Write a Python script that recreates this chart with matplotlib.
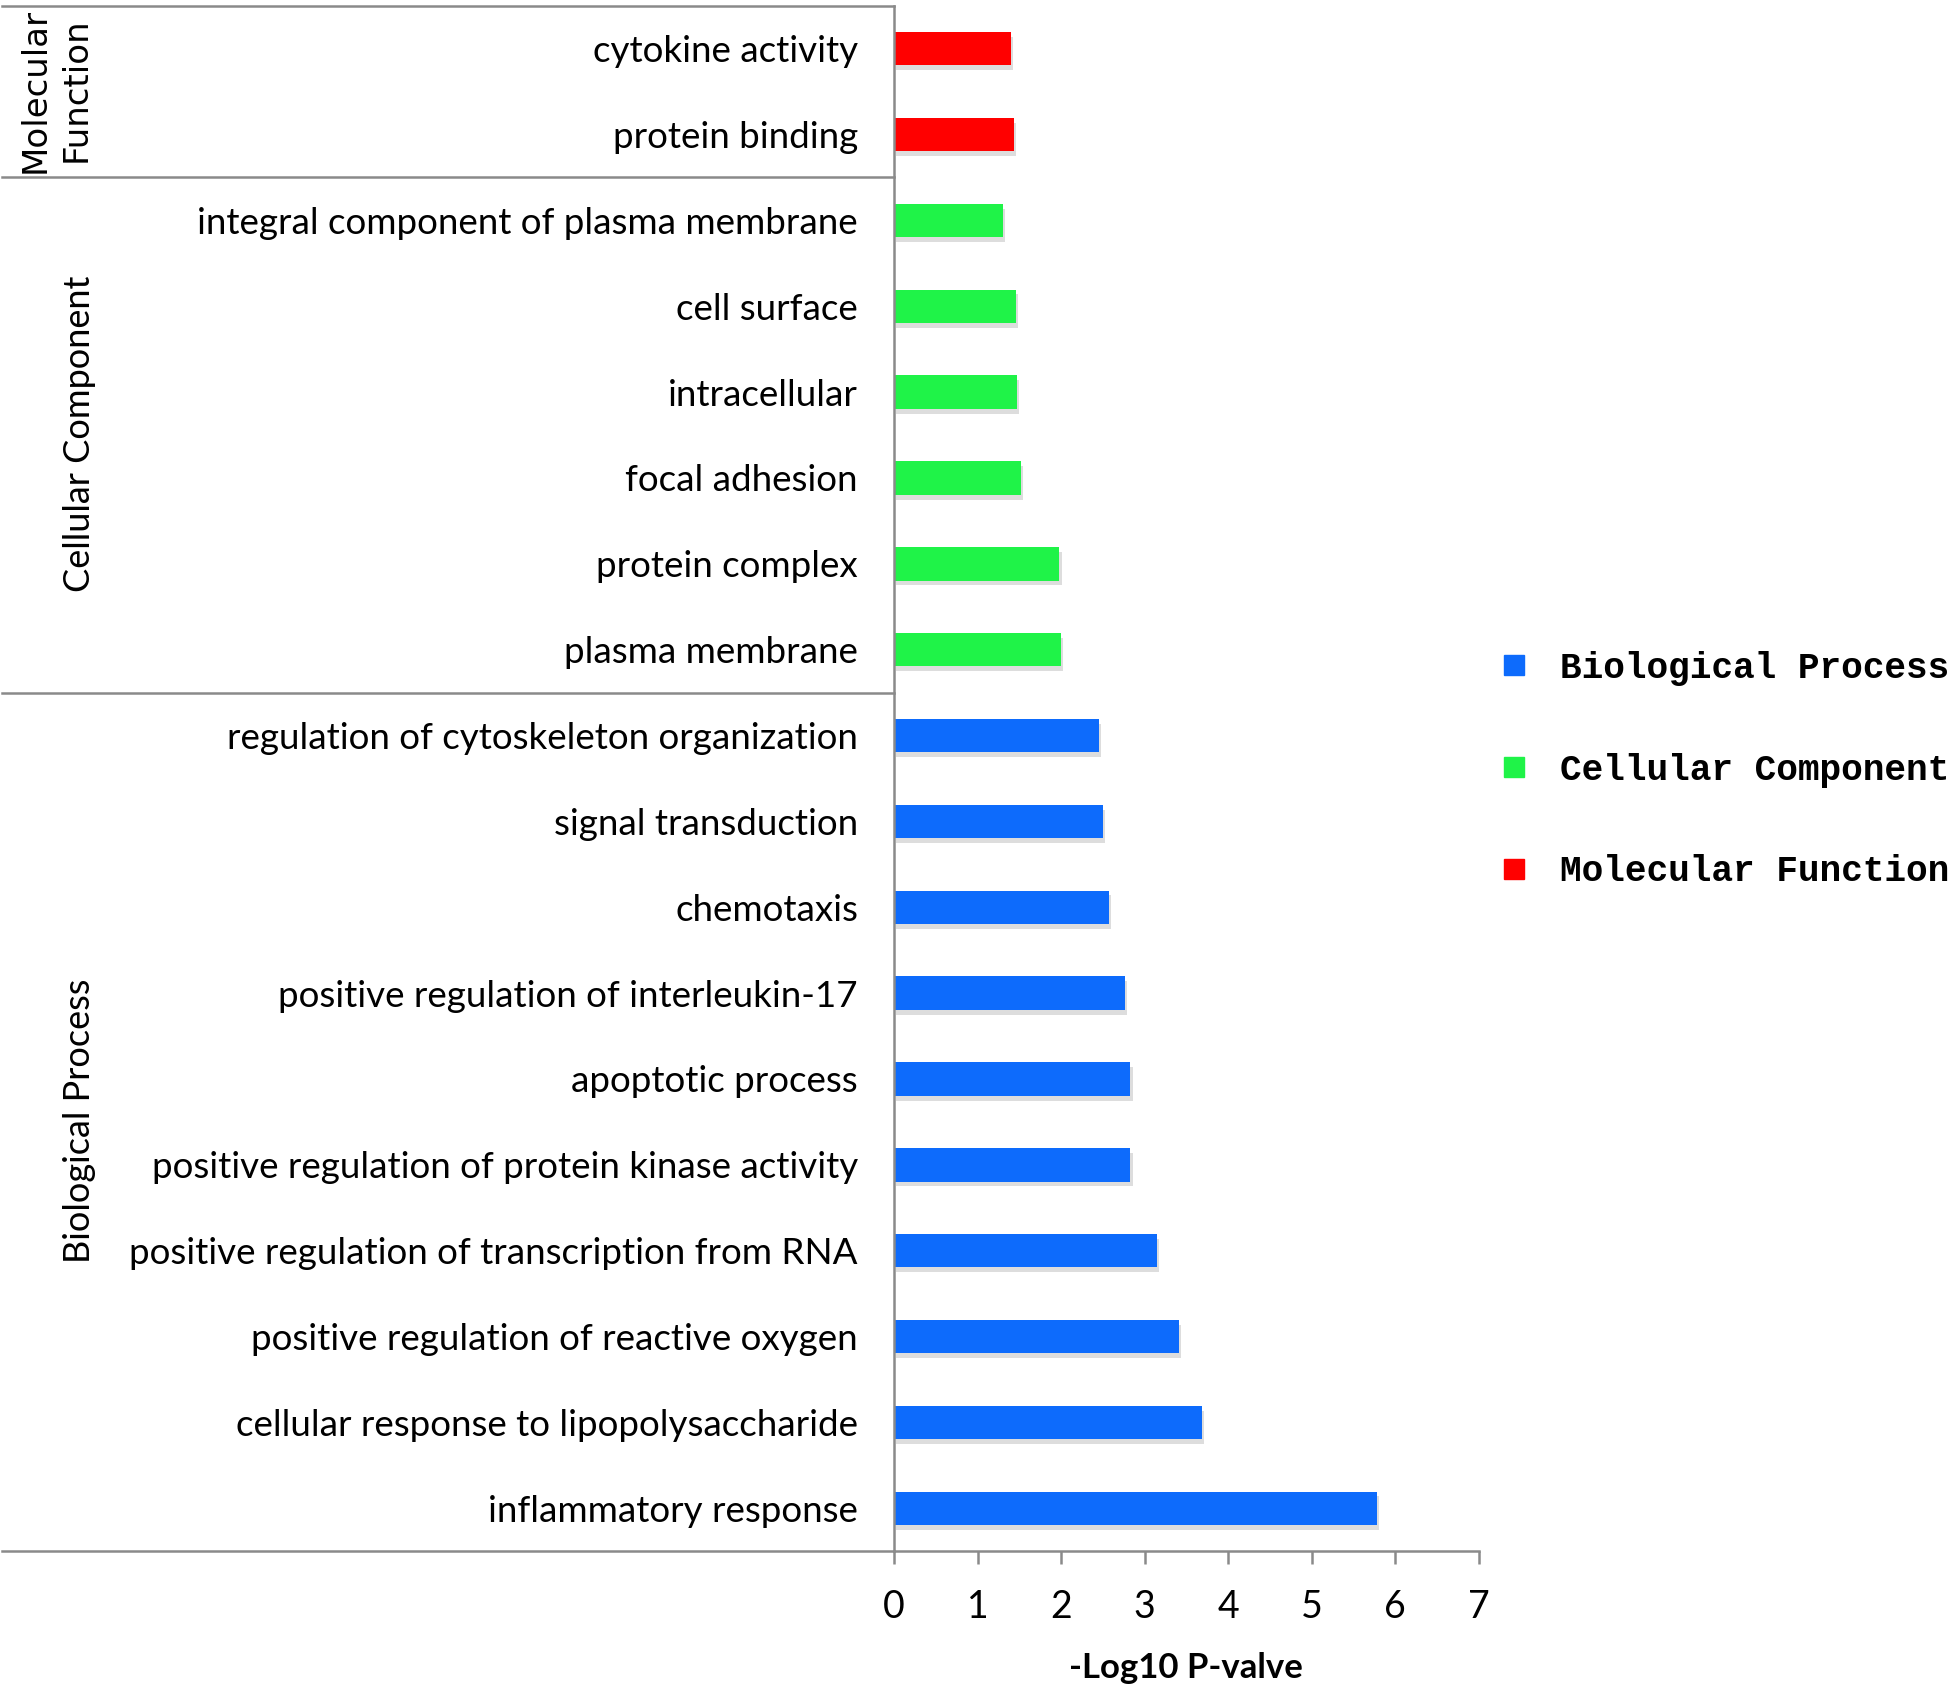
import matplotlib
matplotlib.use("Agg")
import matplotlib.pyplot as plt
import matplotlib.patheffects as pe
from matplotlib.lines import Line2D
from matplotlib.transforms import blended_transform_factory

# ---------------- data ----------------
terms = [
    "cytokine activity",
    "protein binding",
    "integral component of plasma membrane",
    "cell surface",
    "intracellular",
    "focal adhesion",
    "protein complex",
    "plasma membrane",
    "regulation of cytoskeleton organization",
    "signal transduction",
    "chemotaxis",
    "positive regulation of interleukin-17",
    "apoptotic process",
    "positive regulation of protein kinase activity",
    "positive regulation of transcription from RNA",
    "positive regulation of reactive oxygen",
    "cellular response to lipopolysaccharide",
    "inflammatory response",
]
values = [1.40, 1.44, 1.30, 1.46, 1.47, 1.52, 1.98, 2.00,
          2.45, 2.50, 2.57, 2.77, 2.83, 2.83, 3.15, 3.41, 3.69, 5.78]
groups = ["MF", "MF", "CC", "CC", "CC", "CC", "CC", "CC",
          "BP", "BP", "BP", "BP", "BP", "BP", "BP", "BP", "BP", "BP"]
group_names = {"BP": "Biological Process", "CC": "Cellular Component",
               "MF": "Molecular Function"}
legend_order = ["BP", "CC", "MF"]
xticks = [0, 1, 2, 3, 4, 5, 6, 7]
xlabel = "-Log10 P-valve"

# ---------------- style ----------------
colors = {"BP": "#0D6BFC", "CC": "#1FF348", "MF": "#FF0000"}
gray = "#8a8a8a"
W, H, DPI = 1955, 1689, 100

fig = plt.figure(figsize=(W / DPI, H / DPI), dpi=DPI)
ax = fig.add_axes([0.4573, 0.0816, 0.2991, 0.9150])

ypos = list(range(len(terms)))
shadow = [pe.SimplePatchShadow(offset=(1.5, -3.5), shadow_rgbFace="#666666", alpha=0.22),
          pe.Normal()]
for y, v, g in zip(ypos, values, groups):
    b = ax.barh(y, v, height=0.39, color=colors[g], edgecolor="none")
    for p in b:
        p.set_path_effects(shadow)

ax.set_ylim(len(terms) - 0.5, -0.5)
ax.set_xlim(0, 7)
ax.set_xticks(xticks)
ax.set_xticklabels([str(t) for t in xticks], fontsize=27, family="Lato")
ax.set_yticks(ypos)
ax.set_yticklabels(terms, fontsize=26.5, family="Lato")
ax.tick_params(axis="y", length=0, pad=26)
ax.tick_params(axis="x", direction="out", length=9, width=1.8, color=gray, pad=18)
for s in ["top", "right"]:
    ax.spines[s].set_visible(False)
for s in ["left", "bottom"]:
    ax.spines[s].set_color(gray)
    ax.spines[s].set_linewidth(1.8)
ax.set_xlabel(xlabel, fontsize=25, family="Lato", fontweight="bold", labelpad=20)

# separator lines across label area
tr = blended_transform_factory(fig.transFigure, ax.transData)
x_ax0 = 0.4573
for yy in [-0.5, 1.5, 7.5, len(terms) - 0.5]:
    ax.add_line(Line2D([0.001, x_ax0], [yy, yy], transform=tr, color=gray,
                       lw=1.8, clip_on=False))

# group labels
fig.text(0.0284, 1 - 90 / H, "Molecular\nFunction", rotation=90, ha="center",
         va="center", fontsize=24.5, family="DejaVu Sans", linespacing=1.3)
fig.text(0.0405, 1 - 434 / H, group_names["CC"], rotation=90, ha="center",
         va="center", fontsize=26, family="Lato")
fig.text(0.0405, 1 - 1121 / H, group_names["BP"], rotation=90, ha="center",
         va="center", fontsize=26, family="Lato")

# legend
handles = [Line2D([], [], marker="s", ls="", color=colors[g], markersize=14)
           for g in legend_order]
labels = [group_names[g] for g in legend_order]
leg = fig.legend(handles, labels, loc="center left",
                 bbox_to_anchor=(0.7657, 0.5440), frameon=False,
                 prop={"family": "Liberation Mono", "weight": "bold", "size": 26},
                 handlelength=0.95, handletextpad=0.8, labelspacing=1.85,
                 borderpad=0, borderaxespad=0)

fig.savefig("out.png", dpi=DPI)
